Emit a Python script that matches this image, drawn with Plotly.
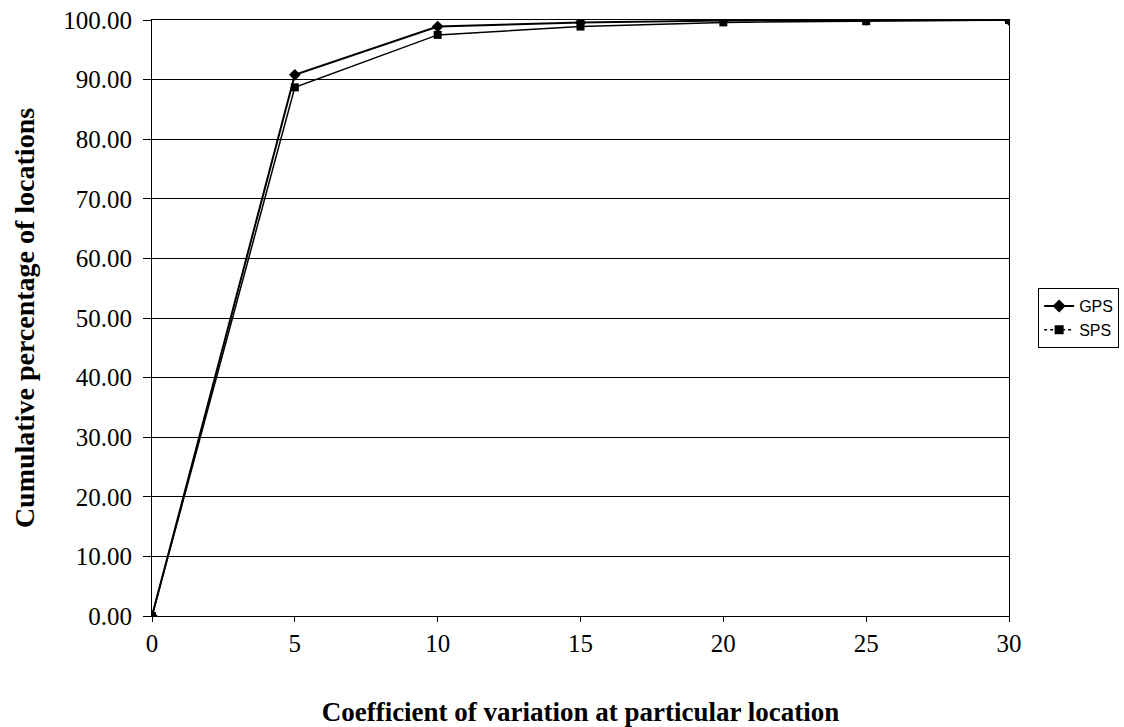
import plotly.graph_objects as go

x_vals = [0, 5, 10, 15, 20, 25, 30]
gps = [0.0, 90.8, 98.9, 99.6, 99.9, 100.0, 100.0]
sps = [0.0, 88.7, 97.5, 98.9, 99.6, 99.8, 100.0]
y_ticks = [0, 10, 20, 30, 40, 50, 60, 70, 80, 90, 100]
x_ticks = [0, 5, 10, 15, 20, 25, 30]

fig = go.Figure()
fig.add_trace(go.Scatter(x=x_vals, y=gps, mode="lines+markers", name="GPS",
                         line=dict(color="black", width=2),
                         marker=dict(symbol="diamond", size=9, color="black"),
                         showlegend=False))
fig.add_trace(go.Scatter(x=x_vals, y=sps, mode="lines+markers", name="SPS",
                         line=dict(color="black", width=1.5),
                         marker=dict(symbol="square", size=8, color="black"),
                         showlegend=False))
# legend entries
fig.add_trace(go.Scatter(x=[None], y=[None], mode="lines+markers", name="GPS",
                         line=dict(color="black", width=2),
                         marker=dict(symbol="diamond", size=10, color="black")))
fig.add_trace(go.Scatter(x=[None], y=[None], mode="lines+markers", name="SPS",
                         line=dict(color="black", width=1.5, dash="dot"),
                         marker=dict(symbol="square", size=9, color="black")))

fig.update_layout(
    width=1124, height=727,
    margin=dict(l=152, r=115, t=20, b=111, autoexpand=False),
    paper_bgcolor="white", plot_bgcolor="white",
    font=dict(family="Liberation Serif, Times New Roman, serif", color="black"),
    legend=dict(x=1.034, y=0.5, xanchor="left", yanchor="middle",
                bordercolor="black", borderwidth=1, bgcolor="white",
                font=dict(family="Liberation Sans, Arial, sans-serif", size=16),
                itemwidth=30, tracegroupgap=0),
    xaxis=dict(range=[0, 30], tickvals=x_ticks, ticktext=[str(v) for v in x_ticks],
               showgrid=False, zeroline=False, showline=True, linecolor="black",
               linewidth=1, mirror=True, ticks="outside", ticklen=5, tickcolor="black",
               tickfont=dict(size=25), ticklabelstandoff=0,
               title=dict(text="<b>Coefficient of variation at particular location</b>",
                          font=dict(size=27), standoff=46)),
    yaxis=dict(range=[0, 100], tickvals=y_ticks, tickformat=".2f",
               showgrid=True, gridcolor="black", gridwidth=1,
               zeroline=False, showline=True, linecolor="black", linewidth=1,
               mirror=True, ticks="outside", ticklen=8, tickcolor="black",
               tickfont=dict(size=25), ticklabelstandoff=6,
               title=dict(text="<b>Cumulative percentage of locations</b>",
                          font=dict(size=28), standoff=20)),
)

fig.write_html("out.html")
